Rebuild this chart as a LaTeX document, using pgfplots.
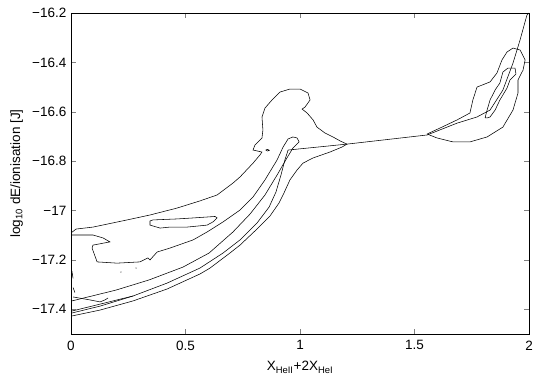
\documentclass[border=0pt]{standalone}
\usepackage{fontspec}
\setmainfont{Liberation Sans}
\usepackage{pgfplots}
\pgfplotsset{compat=1.18}
\usetikzlibrary{calc}
\begin{document}
\fontsize{13.5}{16}\selectfont
\begin{tikzpicture}
\begin{axis}[
  scale only axis, width=458pt, height=321pt,
  xmin=0, xmax=2, ymin=-17.5, ymax=-16.2,
  xtick={0,0.5,1,1.5,2}, xticklabels={0,0.5,1,1.5,2},
  ytick={-17.4,-17.2,-17,-16.8,-16.6,-16.4,-16.2},
  yticklabels={−17.4,−17.2,−17,−16.8,−16.6,−16.4,−16.2},
  tick align=inside, major tick length=5pt,
  ticklabel style={font=\fontsize{13.5}{16}\selectfont},
  label style={font=\fontsize{13.5}{16}\selectfont},
  xticklabel style={yshift=-2pt},
  xlabel={X\textsubscript{HeII}+2X\textsubscript{HeI}},
  xlabel style={yshift=-2pt},
  ylabel={log\textsubscript{10} dE/ionisation [J]},
  axis line style={line width=0.6pt},
  ct/.style={black, line width=0.55pt, mark=none},
]
% outer contour
\addplot[ct] coordinates {(0,-17.091)(0.022,-17.075)(0.096,-17.067)(0.245,-17.038)(0.345,-17.018)(0.463,-16.990)(0.563,-16.961)(0.638,-16.937)(0.707,-16.889)(0.738,-16.864)(0.795,-16.808)(0.825,-16.775)(0.834,-16.763)(0.795,-16.755)(0.803,-16.735)(0.834,-16.706)(0.838,-16.674)(0.834,-16.621)(0.847,-16.585)(0.878,-16.552)(0.913,-16.520)(0.956,-16.508)(1.0,-16.508)(1.035,-16.524)(1.044,-16.552)(1.022,-16.581)(1.009,-16.589)(1.031,-16.605)(1.057,-16.633)(1.074,-16.662)(1.109,-16.686)(1.144,-16.702)(1.175,-16.718)(1.205,-16.731)(1.183,-16.743)(1.131,-16.763)(1.057,-16.787)(1.013,-16.808)(0.987,-16.836)(0.956,-16.876)(0.930,-16.929)(0.908,-16.970)(0.869,-17.022)(0.812,-17.075)(0.738,-17.140)(0.694,-17.172)(0.607,-17.233)(0.563,-17.257)(0.419,-17.318)(0.271,-17.366)(0.127,-17.403)(0.004,-17.427)};
% lower lobe edge, finger and long lower curve
\addplot[ct] coordinates {(0,-17.099)(0.096,-17.099)(0.140,-17.111)(0.170,-17.127)(0.096,-17.140)(0.092,-17.152)(0.114,-17.208)(0.201,-17.213)(0.301,-17.208)(0.336,-17.192)(0.345,-17.200)(0.376,-17.168)(0.432,-17.152)(0.533,-17.119)(0.594,-17.087)(0.664,-17.046)(0.738,-16.998)(0.795,-16.945)(0.847,-16.876)(0.900,-16.795)(0.926,-16.743)(0.948,-16.710)(0.969,-16.702)(0.987,-16.706)(0.996,-16.722)(0.969,-16.747)(0.943,-16.787)(0.900,-16.856)(0.847,-16.937)(0.782,-17.014)(0.707,-17.087)(0.603,-17.172)(0.489,-17.229)(0.341,-17.281)(0.197,-17.322)(0.004,-17.366)};
% hole
\addplot[ct] coordinates {(0.345,-17.042)(0.358,-17.038)(0.463,-17.034)(0.533,-17.030)(0.629,-17.024)(0.638,-17.030)(0.620,-17.046)(0.594,-17.059)(0.507,-17.067)(0.432,-17.067)(0.389,-17.071)(0.345,-17.059)(0.345,-17.042)};
% hook
\addplot[ct] coordinates {(0.009,-17.350)(0.083,-17.362)(0.127,-17.370)(0.148,-17.362)(0.162,-17.354)};
% short pieces near the left edge
\addplot[ct] coordinates {(0.004,-17.407)(0.127,-17.379)(0.271,-17.346)};
\addplot[ct] coordinates {(0.004,-17.245)(0.009,-17.275)};
\addplot[ct] coordinates {(0.009,-17.312)(0.017,-17.332)};
% track
\addplot[ct] coordinates {(2.0,-16.2)(1.991,-16.208)(1.961,-16.309)(1.930,-16.403)(1.886,-16.512)(1.830,-16.593)(1.773,-16.621)(1.686,-16.646)(1.555,-16.694)(1.205,-16.731)(0.948,-16.755)(0.934,-16.795)(0.917,-16.856)(0.895,-16.925)(0.865,-16.986)(0.812,-17.051)(0.738,-17.119)(0.664,-17.172)(0.563,-17.233)(0.419,-17.294)(0.271,-17.346)(0.127,-17.387)(0.004,-17.415)};
% tiny loop
\addplot[ct] coordinates {(0.850,-16.755)(0.858,-16.752)(0.866,-16.756)(0.858,-16.759)(0.850,-16.755)};
% specks
\addplot[only marks, mark=*, mark size=0.4pt, gray] coordinates {(0.218,-17.249)(0.284,-17.233)};
% right outer contour
\addplot[ct] coordinates {(1.555,-16.690)(1.611,-16.666)(1.686,-16.633)(1.742,-16.605)(1.755,-16.552)(1.773,-16.500)(1.830,-16.479)(1.860,-16.443)(1.882,-16.390)(1.904,-16.358)(1.930,-16.342)(1.961,-16.350)(1.983,-16.390)(1.974,-16.431)(1.952,-16.471)(1.952,-16.524)(1.930,-16.593)(1.886,-16.662)(1.817,-16.702)(1.742,-16.722)(1.668,-16.722)(1.598,-16.706)(1.555,-16.690)};
% right inner contour
\addplot[ct] coordinates {(1.808,-16.625)(1.817,-16.593)(1.830,-16.552)(1.852,-16.512)(1.873,-16.483)(1.886,-16.439)(1.908,-16.423)(1.939,-16.423)(1.943,-16.447)(1.917,-16.471)(1.904,-16.504)(1.873,-16.552)(1.852,-16.593)(1.830,-16.621)(1.817,-16.625)(1.808,-16.625)};
\end{axis}
\pgfresetboundingbox
\path[use as bounding box] ($(current axis.south west)+(-71pt,-44pt)$) rectangle ($(current axis.north east)+(10pt,13pt)$);
\end{tikzpicture}
\end{document}
